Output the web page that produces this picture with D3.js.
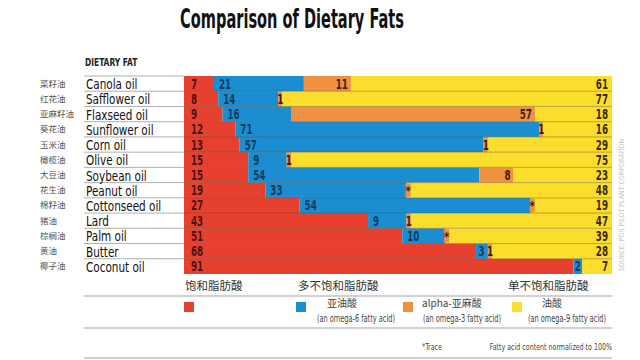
<!DOCTYPE html>
<html>
<head>
<meta charset="utf-8">
<script src="https://cdn.jsdelivr.net/npm/d3@7"></script>
<style>
  body { margin: 0; background: #fff; }
  svg { display: block; }
  .narrow { font-family: "Liberation Sans Narrow", "DejaVu Sans Condensed", "Roboto", sans-serif; }
  .zh { font-family: "Noto Sans CJK SC", sans-serif; }
</style>
</head>
<body>
<div id="chart"></div>
<script>
// ---- data ----
var oils = ['Canola oil', 'Safflower oil', 'Flaxseed oil', 'Sunflower oil', 'Corn oil', 'Olive oil',
    'Soybean oil', 'Peanut oil', 'Cottonseed oil', 'Lard', 'Palm oil', 'Butter', 'Coconut oil'];
var oilsZh = ['菜籽油', '红花油', '亚麻籽油', '葵花油', '玉米油', '橄榄油',
    '大豆油', '花生油', '棉籽油', '猪油', '棕榈油', '黄油', '椰子油'];
var saturated = [7, 8, 9, 12, 13, 15, 15, 19, 27, 43, 51, 68, 91];
var linoleic = [21, 14, 16, 71, 57, 9, 54, 33, 54, 9, 10, 3, 2];
var alphaLinolenic = [11, 1, 57, 1, 1, 1, 8, 0, 0, 1, 0, 1, 0];
var trace = [false, false, false, false, false, false, false, true, true, false, true, false, false];
var oleic = [61, 77, 18, 16, 29, 75, 23, 48, 19, 47, 39, 28, 7];

var groupHeads = ['饱和脂肪酸', '多不饱和脂肪酸', '单不饱和脂肪酸'];
var legendNames = ['亚油酸', 'alpha-亚麻酸', '油酸'];
var legendSubs = ['(an omega-6 fatty acid)', '(an omega-3 fatty acid)', '(an omega-9 fatty acid)'];

var keys = ['sat', 'lin', 'ala', 'ole'];
var colors = { sat: '#e8402f', lin: '#1a8ed0', ala: '#ef9140', ole: '#fbdd2b' };
var textColors = { sat: '#4a1410', lin: '#163a5c', ala: '#3d2410', ole: '#3a2a0c' };

var rows = oils.map(function(name, i) {
    return { name: name, zh: oilsZh[i], sat: saturated[i], lin: linoleic[i],
        ala: alphaLinolenic[i], ole: oleic[i], trace: trace[i] };
});

// squeeze text horizontally around its anchor x (no narrow font installed)
function squeeze(sel, k) {
    sel.attr('transform', function() {
        var ax = +this.getAttribute('x');
        return 'translate(' + ax + ',0) scale(' + k + ',1) translate(' + (-ax) + ',0)';
    });
}

var width = 640, height = 360;
var svg = d3.select('#chart').append('svg')
    .attr('width', width).attr('height', height);

var x = d3.scaleLinear().domain([0, 100]).range([184, 612]);
var y = d3.scaleBand().domain(oils).range([76, 274]);

var series = d3.stack().keys(keys)(rows);

// title
svg.append('text').attr('class', 'narrow')
    .attr('x', 292).attr('y', 28)
    .attr('text-anchor', 'middle')
    .attr('font-size', 27).attr('font-weight', 'bold')
    .attr('fill', '#111')
    .text('Comparison of Dietary Fats')
    .call(squeeze, 0.6);

svg.append('text').attr('class', 'narrow')
    .attr('x', 85).attr('y', 66)
    .attr('font-size', 11).attr('font-weight', 'bold')
    .attr('fill', '#222')
    .text('DIETARY FAT')
    .call(squeeze, 0.76);

// label column separators
svg.append('g').selectAll('line')
    .data(oils).enter()
    .append('line')
    .attr('x1', 84).attr('x2', x(0))
    .attr('y1', function(d) { return y(d); })
    .attr('y2', function(d) { return y(d); })
    .attr('stroke', '#9a9a9a').attr('stroke-width', 0.8);

// labels
svg.append('g').selectAll('text')
    .data(rows).enter()
    .append('text').attr('class', 'narrow')
    .attr('x', 86)
    .attr('y', function(d) { return y(d.name) + y.bandwidth() / 2; })
    .attr('dy', '0.38em')
    .attr('font-size', 14.5)
    .attr('fill', '#111')
    .text(function(d) { return d.name; })
    .call(squeeze, 0.8);

svg.append('g').selectAll('text')
    .data(rows).enter()
    .append('text').attr('class', 'zh')
    .attr('x', 40)
    .attr('y', function(d) { return y(d.name) + y.bandwidth() / 2; })
    .attr('dy', '0.35em')
    .attr('font-size', 8.5)
    .attr('fill', '#555')
    .text(function(d) { return d.zh; });

// bars
svg.append('g').selectAll('g')
    .data(series).enter()
    .append('g')
    .attr('fill', function(s) { return colors[s.key]; })
    .selectAll('rect')
    .data(function(s) { return s; }).enter()
    .append('rect')
    .attr('x', function(d) { return x(d[0]); })
    .attr('y', function(d) { return y(d.data.name); })
    .attr('width', function(d) { return x(d[1]) - x(d[0]); })
    .attr('height', y.bandwidth());

// trace markers
var traceRows = rows.filter(function(d) { return d.trace; });
svg.append('g').selectAll('rect')
    .data(traceRows).enter()
    .append('rect')
    .attr('x', function(d) { return x(d.sat + d.lin) - 1; })
    .attr('y', function(d) { return y(d.name) + 1; })
    .attr('width', 5)
    .attr('height', y.bandwidth() - 2)
    .attr('fill', colors.ala);
svg.append('g').selectAll('text')
    .data(traceRows).enter()
    .append('text').attr('class', 'narrow')
    .attr('x', function(d) { return x(d.sat + d.lin) + 1.5; })
    .attr('y', function(d) { return y(d.name) + y.bandwidth() / 2 + 5; })
    .attr('text-anchor', 'middle')
    .attr('font-size', 12).attr('font-weight', 'bold')
    .attr('fill', '#3a2a0c')
    .text('*');

// row borders across bars
svg.append('g').selectAll('line')
    .data(oils.slice(1)).enter()
    .append('line')
    .attr('x1', x(0)).attr('x2', x(100))
    .attr('y1', function(d) { return y(d); })
    .attr('y2', function(d) { return y(d); })
    .attr('stroke', 'rgba(70,50,20,0.45)').attr('stroke-width', 0.8);

// value labels
series.forEach(function(s) {
    svg.append('g').selectAll('text')
        .data(s.filter(function(d) { return d.data[s.key] > 0; })).enter()
        .append('text').attr('class', 'narrow')
        .attr('font-size', 13.5).attr('font-weight', 'bold')
        .attr('fill', textColors[s.key])
        .attr('y', function(d) { return y(d.data.name) + y.bandwidth() / 2; })
        .attr('dy', '0.37em')
        .attr('x', function(d) {
            var v = d.data[s.key];
            if (s.key === 'sat') return x(d[0]) + 7;
            if (s.key === 'ole') return x(d[1]) - 4;
            if (v < 5) return (x(d[0]) + x(d[1])) / 2;
            if (s.key === 'lin') return x(d[0]) + 5;
            return x(d[1]) - 3;
        })
        .attr('text-anchor', function(d) {
            var v = d.data[s.key];
            if (s.key === 'sat') return 'start';
            if (s.key === 'ole') return 'end';
            if (v < 5) return 'middle';
            if (s.key === 'lin') return 'start';
            return 'end';
        })
        .text(function(d) { return d.data[s.key]; })
        .call(squeeze, 0.72);
});

// source (vertical, faint)
svg.append('text').attr('class', 'narrow')
    .attr('transform', 'translate(624,205) rotate(-90)')
    .attr('text-anchor', 'middle')
    .attr('font-size', 7)
    .attr('fill', '#c4c4c4')
    .text('SOURCE: POS PILOT PLANT CORPORATION');

// ---- legend ----
var lines = [296, 328, 358];
svg.append('g').selectAll('line')
    .data(lines).enter()
    .append('line')
    .attr('x1', 84).attr('x2', x(100))
    .attr('y1', function(d) { return d; }).attr('y2', function(d) { return d; })
    .attr('stroke', '#999').attr('stroke-width', 0.9);

var headX = [185, 298, 508];
svg.append('g').selectAll('text')
    .data(groupHeads).enter()
    .append('text').attr('class', 'zh')
    .attr('x', function(d, i) { return headX[i]; })
    .attr('y', 290)
    .attr('font-size', 11.5)
    .attr('fill', '#333')
    .text(function(d) { return d; });

var swatchX = [184, 296, 403, 512];
svg.append('g').selectAll('rect')
    .data(keys).enter()
    .append('rect')
    .attr('x', function(d, i) { return swatchX[i]; })
    .attr('y', 302)
    .attr('width', 10).attr('height', 10)
    .attr('fill', function(d) { return colors[d]; });

var nameX = [342, 422, 552];
var nameAnchor = ['middle', 'start', 'middle'];
var subX = [356, 462, 567];
svg.append('g').selectAll('text')
    .data(legendNames).enter()
    .append('text').attr('class', 'zh')
    .attr('x', function(d, i) { return nameX[i]; })
    .attr('y', 307)
    .attr('text-anchor', function(d, i) { return nameAnchor[i]; })
    .attr('font-size', 10)
    .attr('fill', '#444')
    .text(function(d) { return d; });
svg.append('g').selectAll('text')
    .data(legendSubs).enter()
    .append('text').attr('class', 'narrow')
    .attr('x', function(d, i) { return subX[i]; })
    .attr('y', 322)
    .attr('text-anchor', 'middle')
    .attr('font-size', 10.5)
    .attr('fill', '#444')
    .text(function(d) { return d; })
    .call(squeeze, 0.7);

svg.append('text').attr('class', 'narrow')
    .attr('x', 422).attr('y', 350)
    .attr('font-size', 9.5).attr('fill', '#444')
    .text('*Trace')
    .call(squeeze, 0.75);
svg.append('text').attr('class', 'narrow')
    .attr('x', x(100)).attr('y', 350)
    .attr('text-anchor', 'end')
    .attr('font-size', 9.5).attr('fill', '#444')
    .text('Fatty acid content normalized to 100%')
    .call(squeeze, 0.74);
</script>
</body>
</html>
